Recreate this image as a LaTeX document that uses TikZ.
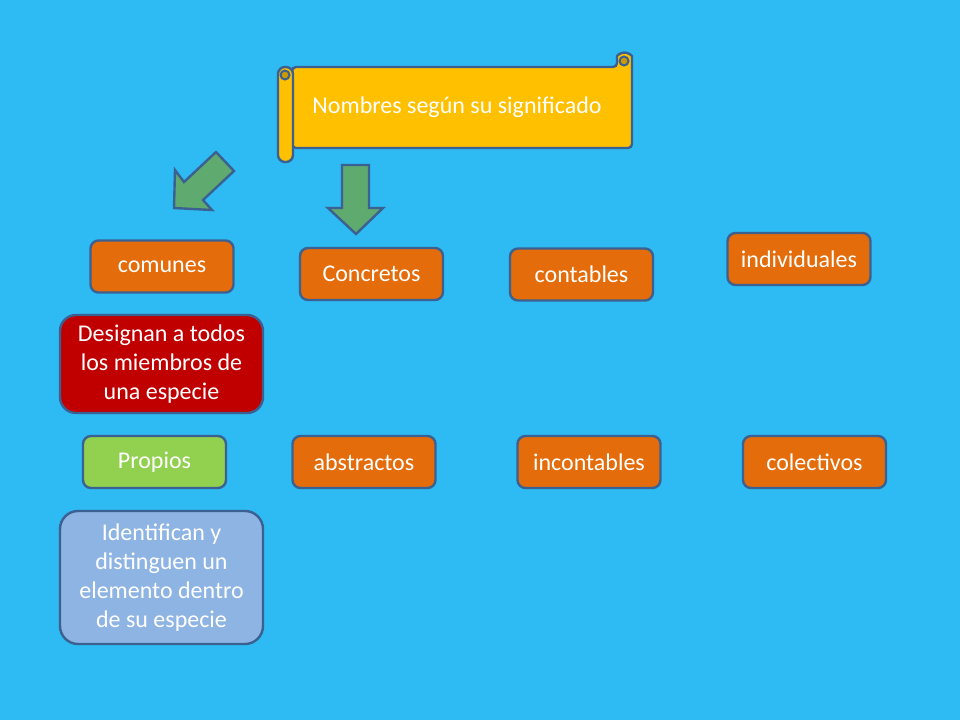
\documentclass[tikz,border=0pt]{standalone}
\usepackage{fontspec}
\setmainfont{Carlito}
\usetikzlibrary{positioning}
\definecolor{fondo}{RGB}{46,186,242}
\definecolor{borde}{RGB}{59,97,146}
\definecolor{naranja}{RGB}{228,108,10}
\definecolor{rojo}{RGB}{192,0,0}
\definecolor{verde}{RGB}{146,208,80}
\definecolor{celeste}{RGB}{142,180,227}
\definecolor{amarillo}{RGB}{255,192,0}
\definecolor{flecha}{RGB}{95,170,110}
\tikzset{
  caja/.style={draw=borde, line width=1.2pt, fill=naranja, rounded corners=4pt,
    text=white, align=center, minimum width=71.5pt, minimum height=26pt,
    font=\fontsize{12}{14.5}\selectfont},
  nota/.style={caja, minimum width=101.5pt, rounded corners=8pt}
}

\begin{document}
\begin{tikzpicture}[x=0.5pt,y=-0.5pt]
\fill[fondo] (0,0) rectangle (960,720);
\useasboundingbox (0,0) rectangle (960,720);
% the scroll
\filldraw[draw=borde, line width=1.2pt, fill=amarillo, rounded corners=2pt]
  (292,67) -- (617,67) -- (617,60) arc (180:360:7.5) -- (632,148) -- (292,148) -- cycle;
\filldraw[draw=borde, line width=1pt, fill=amarillo!80!black] (624,61) circle (4.5);
\filldraw[draw=borde, line width=1.2pt, fill=amarillo, rounded corners=3.5pt]
  (278,67) rectangle (293,162);
\filldraw[draw=borde, line width=1pt, fill=amarillo!80!black] (285,75) circle (4.5);
\node[text=white, font=\fontsize{12}{14.5}\selectfont] (titulo) at (457,107) {Nombres según su significado};
% arrows
\filldraw[draw=borde, line width=1.2pt, fill=flecha]
  (216,152) -- (234,171) -- (203,200) -- (212,210) -- (174,208) -- (175,170) -- (184,182) -- cycle;
\filldraw[draw=borde, line width=1.2pt, fill=flecha]
  (342,165) -- (369,165) -- (369,208) -- (383,208) -- (356,234) -- (328,208) -- (342,208) -- cycle;
% first row
\node[caja] (comunes) at (162,266.5) {comunes};
\node[caja] (concretos) at (371.5,274) {Concretos};
\node[caja] (contables) at (581.5,274.5) {contables};
\node[caja] (individuales) at (799,259) {individuales};
\node[nota, fill=rojo, minimum height=49pt] (designan) at (161.5,364)
  {Designan a todos\\los miembros de\\una especie};
% second row
\node[caja, fill=verde] (propios) at (154.5,462) {Propios};
\node[caja] (abstractos) at (364,462) {abstractos};
\node[caja] (incontables) at (589,462) {incontables};
\node[caja] (colectivos) at (814.5,462) {colectivos};
\node[nota, fill=celeste, minimum height=66.5pt, rounded corners=9pt] (identifican) at (161.5,577.5)
  {Identifican y\\distinguen un\\elemento dentro\\de su especie};
\end{tikzpicture}
\end{document}
